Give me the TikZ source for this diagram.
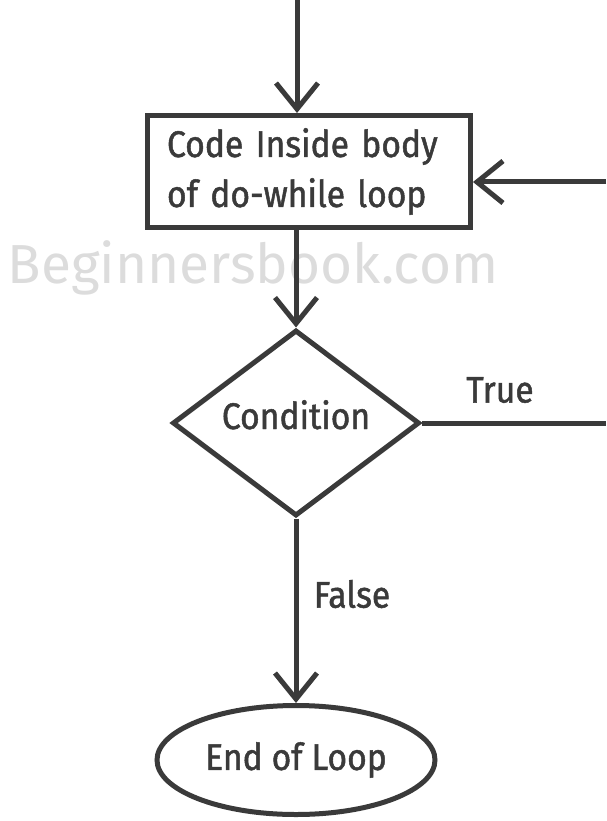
\documentclass[tikz,border=0pt]{standalone}
\usepackage{fontspec}
\setmainfont{Fira Sans}[FakeStretch=0.91, FakeBold=1.3]
\newfontfamily\markfont{Fira Sans}
\usetikzlibrary{arrows.meta,shapes.geometric}
\definecolor{inkgray}{HTML}{3A3A3A}
\definecolor{markgray}{HTML}{DCDCDC}
\tikzset{
  flowline/.style={line width=5pt, draw=inkgray},
  flowarrow/.style={flowline, -{Straight Barb[length=26pt, width=42pt, line width=5pt]}},
  bodybox/.style={draw=inkgray, line width=5pt, rectangle, minimum width=323pt, minimum height=112pt, text width=284pt, align=left, inner sep=0pt, font=\fontsize{37}{50}\selectfont, text=inkgray},
  testbox/.style={draw=inkgray, line width=5pt, diamond, aspect=1.32, minimum width=247pt, minimum height=186pt, inner sep=0pt, text height=28pt, text depth=16pt, font=\fontsize{37}{44}\selectfont, text=inkgray},
  endbox/.style={draw=inkgray, line width=5pt, ellipse, minimum width=278pt, minimum height=109pt, inner sep=0pt, font=\fontsize{37}{44}\selectfont, text=inkgray},
  edgelabel/.style={font=\fontsize{37}{44}\selectfont, text=inkgray},
  watermark/.style={font=\markfont\fontsize{55}{60}\selectfont, text=markgray}
}
\begin{document}
\begin{tikzpicture}[x=1pt, y=-1pt]
		%%%%% START %%%%%
		\useasboundingbox (0, 0) rectangle (606, 821);
		
		\node[watermark] (mark) at (253, 268) {Beginnersbook.com};
		
		\node[bodybox] (body) at (309, 171.5) {Code Inside body\\of do-while loop};
		\node[testbox] (cond) at (296, 423) {Condition};
		\node[endbox] (stop) at (296, 760) {End of Loop};
		
		\coordinate (entry) at (297, 0);
		\coordinate (loopin) at (606, 182);
		\coordinate (loopout) at (606, 423);
		
		\draw[flowarrow] (entry) -- (entry |- body.north);
		\draw[flowarrow] (loopin) -- (loopin -| body.east);
		\draw[flowarrow] (body.south -| cond.north) -- (cond.north);
		\draw[flowline] (cond.east) -- (loopout);
		\draw[flowarrow] (cond.south) -- (stop.north);
		
		\node[edgelabel] (truelbl) at (500, 390) {True};
		\node[edgelabel] (falselbl) at (352, 594) {False};
		
		%%%%% END %%%%%
	\end{tikzpicture}
\end{document}
